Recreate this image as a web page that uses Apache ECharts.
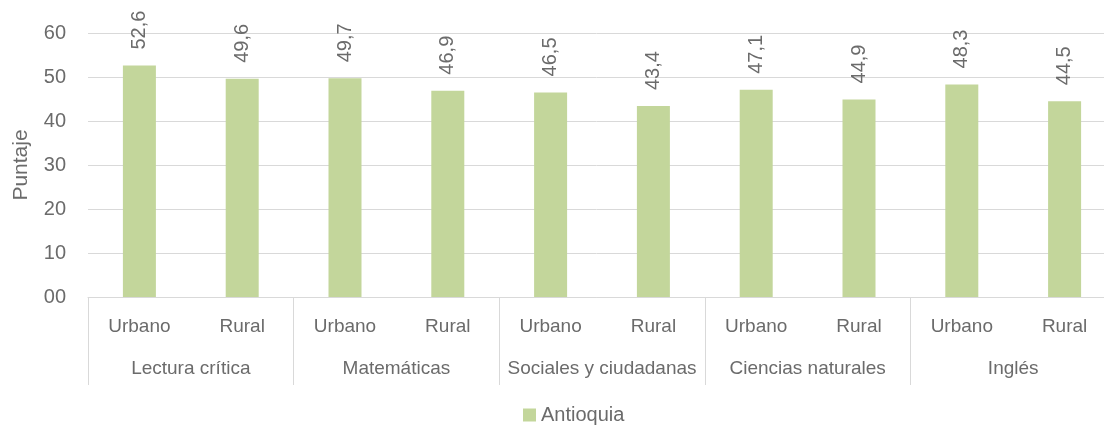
<!DOCTYPE html>
<html>
<head>
<meta charset="utf-8">
<script src="https://cdn.jsdelivr.net/npm/echarts@6/dist/echarts.min.js"></script>
<style>
  html, body { margin: 0; padding: 0; background: #fff; }
  #chart { width: 1104px; height: 433px; }
</style>
</head>
<body>
<div id="chart"></div>
<script>
const zonas = ["Urbano", "Rural", "Urbano", "Rural", "Urbano", "Rural", "Urbano", "Rural", "Urbano", "Rural"];
const areas = ["Lectura crítica", "Matemáticas", "Sociales y ciudadanas", "Ciencias naturales", "Inglés"];
const antioquia = [52.6, 49.6, 49.7, 46.9, 46.5, 43.4, 47.1, 44.9, 48.3, 44.5];

const font = "'Liberation Sans Narrow', 'Liberation Sans', Arial, sans-serif";
const gris = "#6b6b6b";

const chart = echarts.init(document.getElementById("chart"));

chart.setOption({
  animation: false,
  textStyle: { fontFamily: font },
  grid: { left: 88, right: -12, top: 33, bottom: 136, outerBoundsMode: "none" },
  legend: {
    bottom: 3,
    left: 518,
    icon: "rect",
    itemWidth: 13,
    itemHeight: 13,
    itemGap: 5,
    textStyle: { fontSize: 20, color: gris, fontFamily: font },
    data: ["Antioquia"]
  },
  xAxis: [
    {
      type: "category",
      data: zonas,
      position: "bottom",
      axisLine: { show: false },
      axisTick: { show: false },
      axisLabel: { fontSize: 19, color: gris, margin: 20 }
    },
    {
      type: "category",
      data: areas,
      position: "bottom",
      boundaryGap: true,
      axisLine: { show: true, lineStyle: { color: "#d9d9d9" } },
      axisTick: { show: true, length: 88, lineStyle: { color: "#d9d9d9" } },
      axisLabel: { fontSize: 19, color: gris, margin: 62, interval: 0 }
    }
  ],
  yAxis: {
    type: "value",
    min: 0,
    max: 60,
    interval: 10,
    name: "Puntaje",
    nameLocation: "middle",
    nameGap: 56,
    nameTextStyle: { fontSize: 21, color: gris },
    axisLine: { show: false },
    axisTick: { show: false },
    axisLabel: {
      fontSize: 20,
      color: gris,
      margin: 22,
      formatter: v => String(v).padStart(2, "0")
    },
    splitLine: { lineStyle: { color: "#d9d9d9" } }
  },
  series: [
    {
      name: "Antioquia",
      type: "bar",
      xAxisIndex: 0,
      data: antioquia,
      barWidth: 33,
      itemStyle: { color: "#c3d69b" },
      label: {
        show: true,
        position: "top",
        rotate: 90,
        align: "left",
        verticalAlign: "middle",
        distance: 16,
        fontSize: 20,
        color: gris,
        formatter: p => p.value.toFixed(1).replace(".", ",")
      }
    }
  ]
});
</script>
</body>
</html>
